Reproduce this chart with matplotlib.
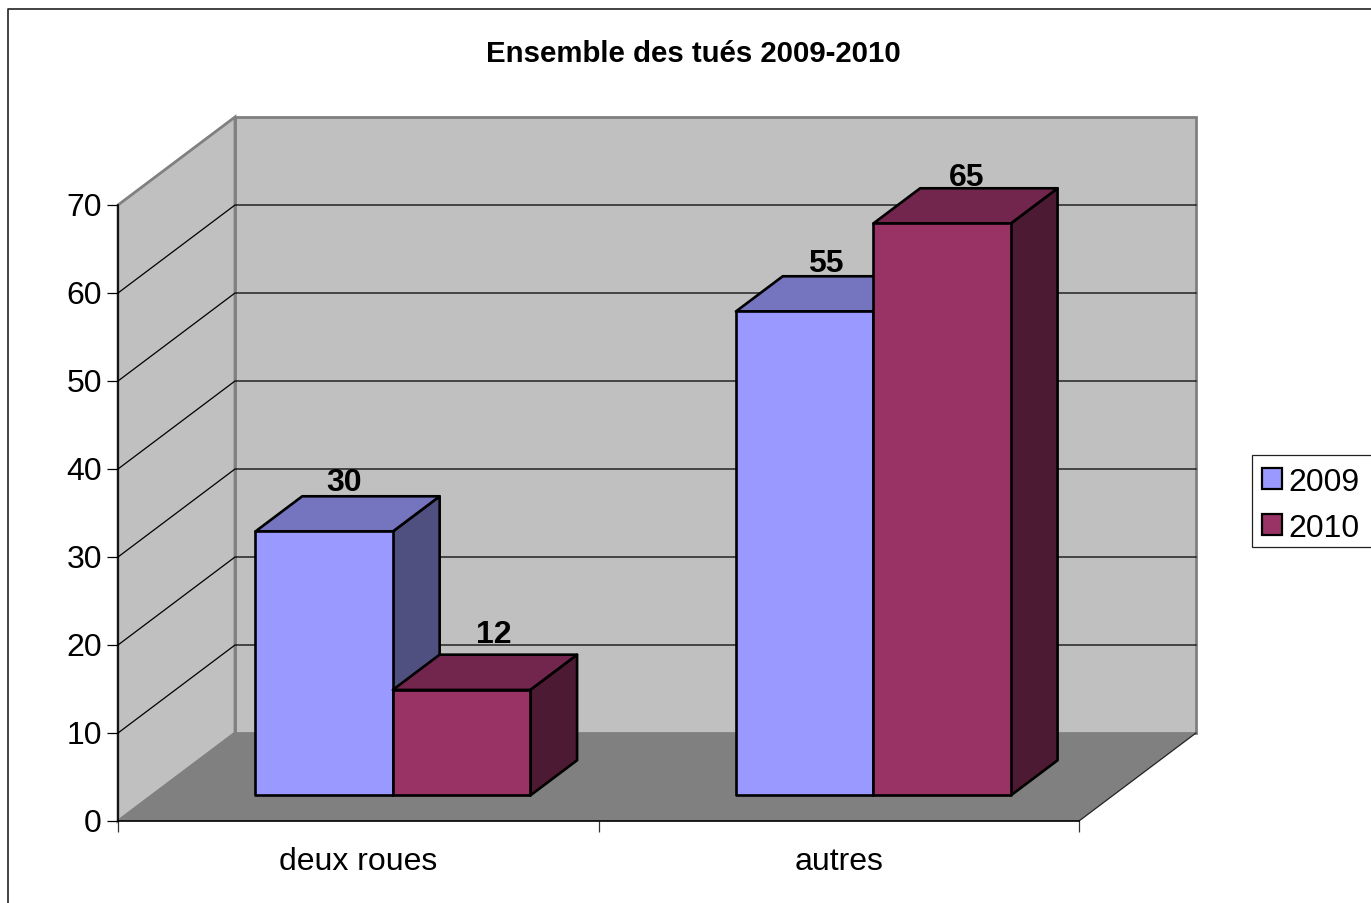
import matplotlib
matplotlib.use('Agg')
import matplotlib.pyplot as plt
from matplotlib.patches import Polygon, Patch, Rectangle
from matplotlib.lines import Line2D
from matplotlib.transforms import ScaledTranslation

plt.rcParams['font.family'] = ['Liberation Sans', 'DejaVu Sans']

# donnees
categories = ['deux roues', 'autres']
years = ['2009', '2010']
values_2009 = [30, 55]
values_2010 = [12, 65]
y_ticks = [0, 10, 20, 30, 40, 50, 60, 70]

W, H = 1371, 904
DPI = 100

# faux 3D : decalage de la profondeur en unites de donnees
DEPTH_X = 0.2435
DEPTH_Y = 10
BAR_W = 0.286
BAR_SHIFT = 0.072
FRONT = 0.29
BACK = 0.69

colors = {'2009': ('#9999ff', '#7575bf', '#4f4f80'),
          '2010': ('#993366', '#73264d', '#4d1a33')}


def draw_bar(ax, x, value, cols):
    y0 = DEPTH_Y * FRONT
    dx = DEPTH_X * (BACK - FRONT)
    dy = DEPTH_Y * (BACK - FRONT)
    top = y0 + value
    kw = dict(edgecolor='black', linewidth=1.9, joinstyle='round', clip_on=False, zorder=5)
    ax.add_patch(Polygon([(x + BAR_W, y0), (x + BAR_W + dx, y0 + dy),
                          (x + BAR_W + dx, top + dy), (x + BAR_W, top)], facecolor=cols[2], **kw))
    ax.add_patch(Polygon([(x, top), (x + dx, top + dy),
                          (x + BAR_W + dx, top + dy), (x + BAR_W, top)], facecolor=cols[1], **kw))
    ax.add_patch(Polygon([(x, y0), (x + BAR_W, y0),
                          (x + BAR_W, top), (x, top)], facecolor=cols[0], **kw))


fig = plt.figure(figsize=(W / DPI, H / DPI), dpi=DPI)
ax = fig.add_axes([118 / W, 1 - 822 / H, (1079 - 118) / W, (821 - 205) / H])
ax.set_xlim(0, 2)
ax.set_ylim(0, 70)
ax.patch.set_alpha(0)

ymax = y_ticks[-1]

# murs et sol
ax.add_patch(Polygon([(DEPTH_X, DEPTH_Y), (2 + DEPTH_X, DEPTH_Y),
                      (2 + DEPTH_X, ymax + DEPTH_Y), (DEPTH_X, ymax + DEPTH_Y)],
                     facecolor='#c0c0c0', edgecolor='#808080', linewidth=2, clip_on=False, zorder=1))
ax.add_patch(Polygon([(0, 0), (DEPTH_X, DEPTH_Y), (DEPTH_X, ymax + DEPTH_Y), (0, ymax)],
                     facecolor='#c0c0c0', edgecolor='#808080', linewidth=2, clip_on=False, zorder=1))
ax.add_patch(Polygon([(0, 0), (2, 0), (2 + DEPTH_X, DEPTH_Y), (DEPTH_X, DEPTH_Y)],
                     facecolor='#808080', edgecolor='none', clip_on=False, zorder=2))

# grille
for v in y_ticks[1:-1]:
    ax.plot([0, DEPTH_X, 2 + DEPTH_X], [v, v + DEPTH_Y, v + DEPTH_Y], color='black',
            linewidth=0.9, clip_on=False, zorder=3)
ax.plot([2, 2 + DEPTH_X], [0, DEPTH_Y], color='#222222', linewidth=0.9, clip_on=False, zorder=3)

# barres
for i in range(len(categories)):
    x_mid = i + 0.5 + BAR_SHIFT
    draw_bar(ax, x_mid - BAR_W, values_2009[i], colors['2009'])
    draw_bar(ax, x_mid, values_2010[i], colors['2010'])

# etiquettes de valeur, decalage en pixels depuis le milieu de la barre / bord arriere
label_nudge_2009 = [(20, 6.5), (21, 5.5)]
label_nudge_2010 = [(32, 12.5), (25, 3.5)]
for i in range(len(categories)):
    x_mid = i + 0.5 + BAR_SHIFT
    for x_c, val, nudge in [(x_mid - BAR_W / 2, values_2009[i], label_nudge_2009[i]),
                            (x_mid + BAR_W / 2, values_2010[i], label_nudge_2010[i])]:
        ax.annotate(str(val), (x_c, DEPTH_Y * BACK + val),
                    xytext=(nudge[0] * 72 / DPI, nudge[1] * 72 / DPI), textcoords='offset points',
                    ha='center', va='baseline', fontsize=23, fontweight='bold',
                    color='black', zorder=6, annotation_clip=False)

# axes
for s in ['top', 'right']:
    ax.spines[s].set_visible(False)
for s in ['left', 'bottom']:
    ax.spines[s].set_linewidth(1.2)
    ax.spines[s].set_zorder(4)
ax.set_yticks(y_ticks)
ax.set_xticks([0, 1, 2])
ax.set_xticklabels([])
ax.set_xticks([i + 0.5 for i in range(len(categories))], minor=True)
ax.set_xticklabels(categories, minor=True)
ax.tick_params(axis='y', length=8, width=0.9, pad=3.6, labelsize=23)
ax.tick_params(axis='x', which='major', length=8, width=0.9, color='#333333')
ax.tick_params(axis='x', which='minor', length=0, pad=18, labelsize=23)

# les chiffres de l'axe y sont un peu plus hauts dans l'original
up = ScaledTranslation(0, 1.5 / DPI, fig.dpi_scale_trans)
for t in ax.get_yticklabels():
    t.set_transform(t.get_transform() + up)

fig.text(693.5 / W, 1 - 54 / H, 'Ensemble des tués 2009-2010', ha='center', va='center',
         fontsize=21.2, fontweight='bold')

# legende : le cadre est dessine a part pour placer le texte librement
fig.add_artist(Rectangle((1251.5 / W, 1 - 548 / H), 125 / W, 92 / H, transform=fig.transFigure,
                         facecolor='white', edgecolor='#222222', linewidth=0.9, zorder=2))
handles = [Patch(facecolor=colors[y][0], edgecolor='black', linewidth=1.6) for y in years]
leg = fig.legend(handles, years, loc='upper left', bbox_to_anchor=(1254 / W, 1 - 460 / H),
                 borderaxespad=0, fontsize=23, handlelength=0.63, handleheight=0.63,
                 handletextpad=0.2, labelspacing=0.5, borderpad=0.25, frameon=False)
leg.set_zorder(3)

# cadre du graphique, coupe a droite et en bas
fig.add_artist(Line2D([7.5 / W, 7.5 / W, 1], [0, 1 - 9.5 / H, 1 - 9.5 / H], color='#222222', linewidth=1.2))

fig.savefig('out.png', dpi=DPI)
